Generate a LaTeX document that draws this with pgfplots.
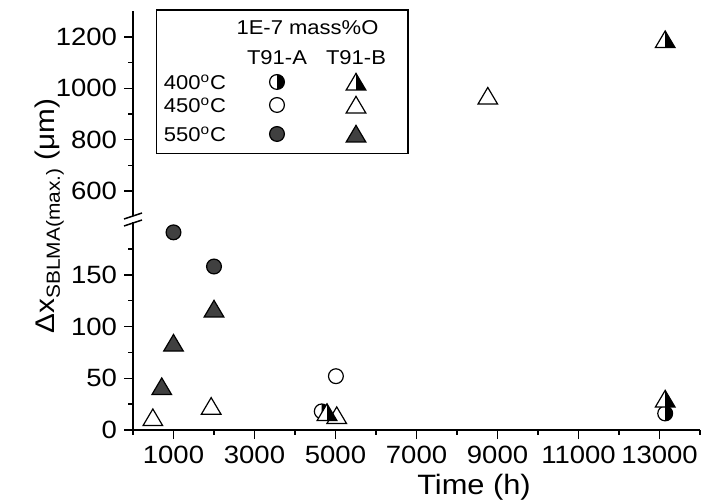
\documentclass[border=0pt]{standalone}
\usepackage{pgfplots}
\pgfplotsset{compat=1.18}
\usepackage{fontspec}
\setmainfont{Liberation Sans}[FakeStretch=1.1]
\definecolor{darkfill}{RGB}{64,64,64}

% circle marks: open, filled, half filled (right half black)
\pgfdeclareplotmark{ocirc}{%
  \pgfpathcircle{\pgfpointorigin}{3.7pt}%
  \pgfsetfillcolor{white}\pgfusepath{fill,stroke}}
\pgfdeclareplotmark{dcirc}{%
  \pgfpathcircle{\pgfpointorigin}{3.7pt}%
  \pgfsetfillcolor{darkfill}\pgfusepath{fill,stroke}}
\pgfdeclareplotmark{hcirc}{%
  \pgfpathcircle{\pgfpointorigin}{3.7pt}%
  \pgfsetfillcolor{white}\pgfusepath{fill}%
  \pgfpathmoveto{\pgfpoint{0pt}{3.7pt}}%
  \pgfpatharc{90}{-90}{3.7pt}%
  \pgfpathclose
  \pgfsetfillcolor{black}\pgfusepath{fill}%
  \pgfpathcircle{\pgfpointorigin}{3.7pt}%
  \pgfusepath{stroke}}
% triangle marks
\def\tripath{\pgfpathmoveto{\pgfpoint{0pt}{4.3pt}}%
  \pgfpathlineto{\pgfpoint{4.9pt}{-4pt}}%
  \pgfpathlineto{\pgfpoint{-4.9pt}{-4pt}}\pgfpathclose}
\pgfdeclareplotmark{otri}{\pgfsetmiterjoin\tripath
  \pgfsetfillcolor{white}\pgfusepath{fill,stroke}}
\pgfdeclareplotmark{dtri}{\pgfsetmiterjoin\tripath
  \pgfsetfillcolor{darkfill}\pgfusepath{fill,stroke}}
\pgfdeclareplotmark{htri}{\pgfsetmiterjoin\tripath
  \pgfsetfillcolor{white}\pgfusepath{fill}%
  \pgfpathmoveto{\pgfpoint{0pt}{4.3pt}}%
  \pgfpathlineto{\pgfpoint{4.9pt}{-4pt}}%
  \pgfpathlineto{\pgfpoint{0pt}{-4pt}}\pgfpathclose
  \pgfsetfillcolor{black}\pgfusepath{fill}%
  \tripath\pgfusepath{stroke}}

\pgfplotsset{
  base/.style={
    scale only axis, width=283.5pt, xmin=0, xmax=14000, clip=false,
    tick align=outside, major tick length=4.5pt, minor tick length=2.3pt,
    axis line style={line width=0.75pt, black},
    tick style={line width=0.75pt, black},
    tick label style={font=\fontsize{12.5}{14}\selectfont},
    /pgf/number format/assume math mode=true,
    /pgf/number format/1000 sep={},
    scaled x ticks=false, scaled y ticks=false,
  },
  pts/.style={only marks, draw=black, line width=0.6pt, forget plot},
  % one legend cell: width, height above, depth below, content
  lgcell/.style n args={4}{legend image code/.code={%
      \path[draw=none, fill=none] (0pt,-#3) rectangle (#1,#2); #4}},
}

\begin{document}
\begin{tikzpicture}
\useasboundingbox (0,0) rectangle (352pt,251.5pt);

% lower part: 0 -- 200 um
\begin{axis}[base, at={(66.5pt,36.5pt)}, anchor=south west,
  height=104pt, ymin=0, ymax=201,
  axis x line*=bottom, axis y line*=left,
  xtick={1000,3000,...,13000}, minor xtick={0,2000,...,14000},
  ytick={0,50,100,150}, minor ytick={25,75,125,175}]
  % T91-A, 400 C
  \addplot[pts, mark=hcirc] coordinates {(4660,18) (13140,16)};
  % T91-A, 450 C
  \addplot[pts, mark=ocirc] coordinates {(5010,52)};
  % T91-A, 550 C
  \addplot[pts, mark=dcirc] coordinates {(1000,191) (2000,158)};
  % T91-B, 450 C
  \addplot[pts, mark=otri] coordinates {(490,12) (1930,23) (5030,14)};
  % T91-B, 550 C
  \addplot[pts, mark=dtri] coordinates {(710,42) (1000,84) (2000,117)};
  % T91-B, 400 C
  \addplot[pts, mark=htri] coordinates {(4790,17) (13140,30)};
\end{axis}

% upper part: 500 -- 1300 um
\begin{axis}[base, at={(66.5pt,143.5pt)}, anchor=south west,
  height=102.35pt, ymin=503, ymax=1300,
  axis x line=none, axis y line*=left,
  ytick={600,800,1000,1200}, minor ytick={700,900,1100},
  legend columns=3,
  legend style={at={(0.0418,1.0064)}, anchor=north west,
    draw=black, line width=0.6pt, fill=white,
    inner sep=0pt, outer sep=0pt, column sep=0pt, row sep=0pt,
    nodes={inner sep=0pt, outer sep=0pt, text depth={}},
    font=\fontsize{10}{12}\selectfont}]
  % T91-B, 450 C
  \addplot[pts, mark=otri] coordinates {(8760,970)};
  % T91-B, 400 C
  \addplot[pts, mark=htri] coordinates {(13140,1190)};

  % legend: title row
  \addlegendimage{lgcell={41.65pt}{9pt}{8pt}{}}\addlegendentry{}
  \addlegendimage{lgcell={35pt}{9pt}{8pt}{\node[anchor=center] at (32.75pt,0pt) {\makebox[0pt]{1E-7 mass\%O}};}}\addlegendentry{}
  \addlegendimage{lgcell={46pt}{9pt}{8pt}{}}\addlegendentry{}
  % header row
  \addlegendimage{lgcell={41.65pt}{6.75pt}{6.75pt}{}}\addlegendentry{}
  \addlegendimage{lgcell={35pt}{6.75pt}{6.75pt}{\node[anchor=center] at (17.5pt,0pt) {T91-A};}}\addlegendentry{}
  \addlegendimage{lgcell={46pt}{6.75pt}{6.75pt}{\node[anchor=center] at (21pt,0pt) {T91-B};}}\addlegendentry{}
  % 400 C
  \addlegendimage{lgcell={41.65pt}{5.5pt}{5.5pt}{\node[anchor=east] at (34.65pt,0pt) {400\textsuperscript{o}C};}}\addlegendentry{}
  \addlegendimage{lgcell={35pt}{5.5pt}{5.5pt}{\pgfsetlinewidth{0.6pt}\pgftransformshift{\pgfpoint{17.5pt}{0pt}}\pgfuseplotmark{hcirc}}}\addlegendentry{}
  \addlegendimage{lgcell={46pt}{5.5pt}{5.5pt}{\pgfsetlinewidth{0.6pt}\pgftransformshift{\pgfpoint{21pt}{0pt}}\pgfuseplotmark{htri}}}\addlegendentry{}
  % 450 C
  \addlegendimage{lgcell={41.65pt}{6pt}{6pt}{\node[anchor=east] at (34.65pt,0pt) {450\textsuperscript{o}C};}}\addlegendentry{}
  \addlegendimage{lgcell={35pt}{6pt}{6pt}{\pgfsetlinewidth{0.6pt}\pgftransformshift{\pgfpoint{17.5pt}{0pt}}\pgfuseplotmark{ocirc}}}\addlegendentry{}
  \addlegendimage{lgcell={46pt}{6pt}{6pt}{\pgfsetlinewidth{0.6pt}\pgftransformshift{\pgfpoint{21pt}{0pt}}\pgfuseplotmark{otri}}}\addlegendentry{}
  % 550 C
  \addlegendimage{lgcell={41.65pt}{8.5pt}{9.65pt}{\node[anchor=east] at (34.65pt,0pt) {550\textsuperscript{o}C};}}\addlegendentry{}
  \addlegendimage{lgcell={35pt}{8.5pt}{9.65pt}{\pgfsetlinewidth{0.6pt}\pgftransformshift{\pgfpoint{17.5pt}{0pt}}\pgfuseplotmark{dcirc}}}\addlegendentry{}
  \addlegendimage{lgcell={46pt}{8.5pt}{9.65pt}{\pgfsetlinewidth{0.6pt}\pgftransformshift{\pgfpoint{21pt}{0pt}}\pgfuseplotmark{dtri}}}\addlegendentry{}
\end{axis}

% axis break marks
\draw[line width=0.75pt] (62pt,138.5pt) -- (71pt,141.5pt);
\draw[line width=0.75pt] (62pt,142pt) -- (71pt,145pt);

% axis titles
\node[rotate=90, anchor=base, font=\fontsize{13.5}{16}\selectfont]
  at (27pt,143.5pt)
  {Δx\raisebox{-0.22em}{\fontsize{9.5}{11}\selectfont SBLMA(max.)} (μm)};
\node[anchor=base, font=\fontsize{14}{16}\selectfont]
  at (237pt,4.5pt) {Time (h)};
\end{tikzpicture}
\end{document}
